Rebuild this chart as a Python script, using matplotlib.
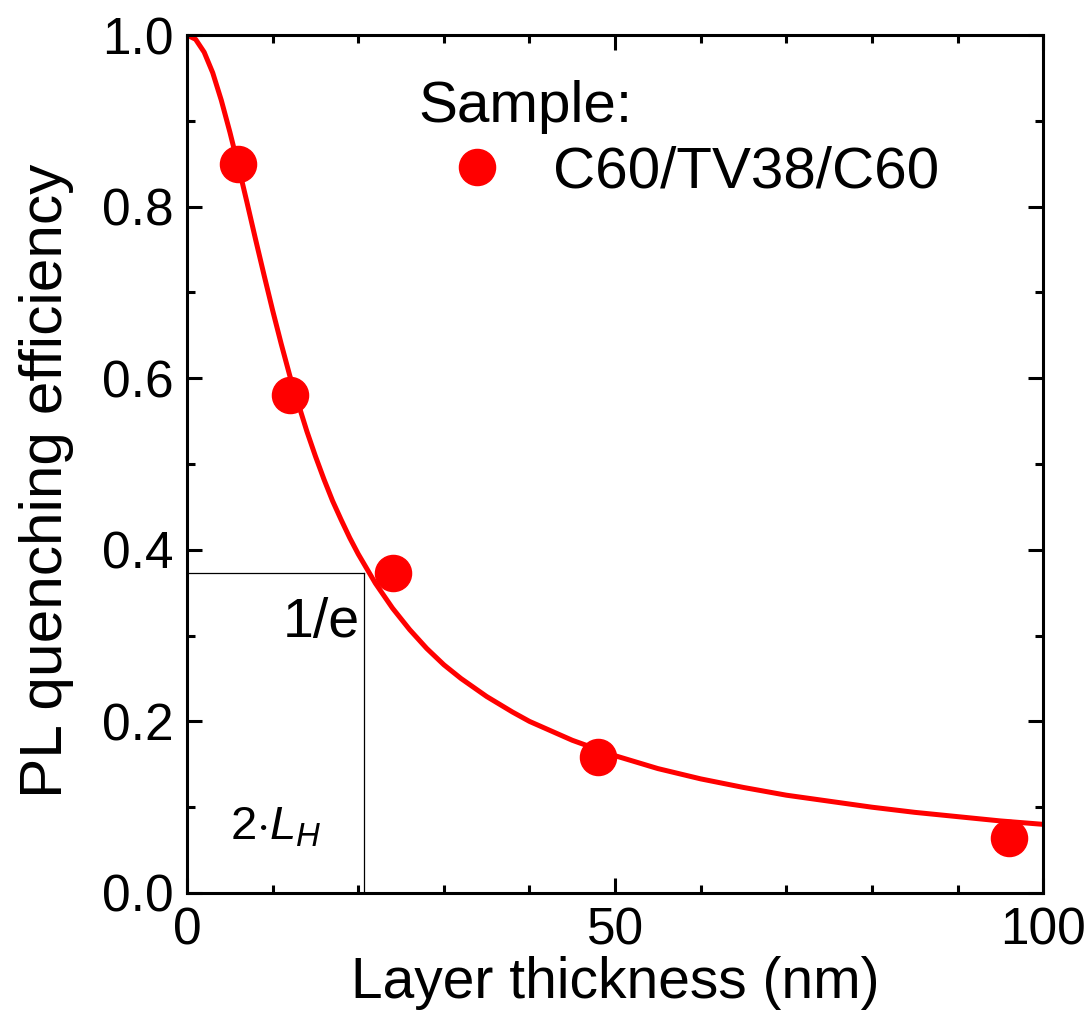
import matplotlib.pyplot as plt
from matplotlib.ticker import MultipleLocator

plt.rcParams['font.family'] = ['Liberation Sans', 'DejaVu Sans']
plt.rcParams['mathtext.fontset'] = 'custom'
plt.rcParams['mathtext.it'] = 'Liberation Sans:italic'
plt.rcParams['mathtext.rm'] = 'Liberation Sans'

# measured points
thickness = [6, 12, 24, 48, 96]
quenching = [0.85, 0.58, 0.373, 0.158, 0.064]

# fit curve
fit_x = [0, 1, 2, 3, 4, 5, 6, 7, 8, 9, 10, 11, 12, 13, 14, 15, 16, 17, 18, 19,
         20, 22, 24, 26, 28, 30, 32, 35, 38, 40, 45, 50, 55, 60, 65, 70, 75,
         80, 85, 90, 95, 100]
fit_y = [1.0, 0.995, 0.980, 0.956, 0.924, 0.887, 0.847, 0.805, 0.762, 0.720,
         0.679, 0.640, 0.603, 0.570, 0.538, 0.509, 0.482, 0.457, 0.435, 0.414,
         0.395, 0.361, 0.332, 0.307, 0.285, 0.266, 0.250, 0.229, 0.211, 0.200,
         0.178, 0.160, 0.145, 0.133, 0.123, 0.114, 0.107, 0.100, 0.094, 0.089,
         0.084, 0.080]

two_LH = 20.7
inv_e = 0.373

red = '#ff0000'


def main():
    fig = plt.figure(figsize=(10.9, 10.18), dpi=100)
    ax = fig.add_axes([0.1716, 0.1228, 0.7854, 0.8428])

    ax.plot(fit_x, fit_y, color=red, lw=3.6, zorder=2)
    ax.plot(thickness, quenching, 'o', color=red, ms=26, zorder=3,
            label='C60/TV38/C60')

    ax.plot([0, two_LH], [inv_e, inv_e], color='black', lw=0.9, zorder=1)
    ax.plot([two_LH, two_LH], [0, inv_e], color='black', lw=0.9, zorder=1)
    ax.text(20.2, 0.315, '1/e', fontsize=40, ha='right', va='center')
    ax.text(5, 0.062, r'$2{\cdot}L_H$', fontsize=34, ha='left', va='baseline')

    ax.set_xlim(0, 100)
    ax.set_ylim(0, 1.0)
    ax.xaxis.set_major_locator(MultipleLocator(50))
    ax.xaxis.set_minor_locator(MultipleLocator(10))
    ax.yaxis.set_major_locator(MultipleLocator(0.2))
    ax.yaxis.set_minor_locator(MultipleLocator(0.1))
    ax.yaxis.set_major_formatter(plt.FuncFormatter(lambda v, p: f'{v:.1f}'))

    ax.tick_params(which='both', direction='in', top=True, right=True, width=2.2)
    ax.tick_params(which='major', length=11, labelsize=37, pad=10)
    ax.tick_params(which='minor', length=6)
    for s in ax.spines.values():
        s.set_linewidth(2.2)

    ax.set_xlabel('Layer thickness (nm)', fontsize=41, labelpad=0)
    ax.set_ylabel('PL quenching efficiency', fontsize=43.5, labelpad=20, y=0.48)

    ax.legend(title='Sample:', loc='upper left', bbox_to_anchor=(0.243, 0.975),
              frameon=False, fontsize=42, title_fontsize=42,
              handletextpad=0.3, alignment='left', borderaxespad=0,
              labelspacing=0.2)
    fig.savefig('out.png', dpi=100)


if __name__ == "__main__":
    main()
